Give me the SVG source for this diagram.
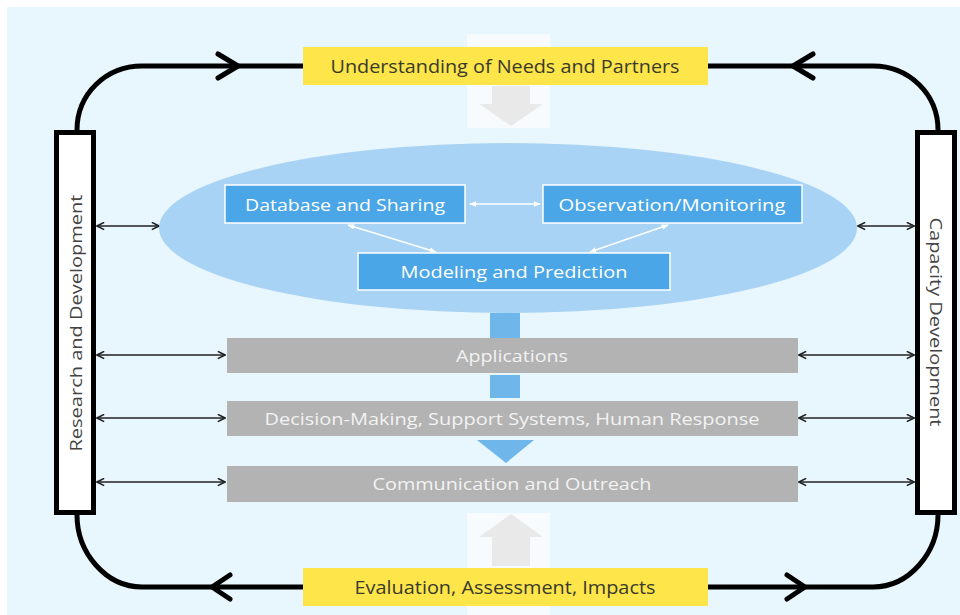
<svg xmlns="http://www.w3.org/2000/svg" width="960" height="615" viewBox="0 0 960 615">
  <defs>
    <style>
      text { font-family: "Open Sans", "Liberation Sans", sans-serif; text-anchor: middle; dominant-baseline: central; }
      .yellow { fill: #fde54a; }
      .ytext { font-size: 18px; fill: #3a3a2a; }
      .side { fill: #ffffff; stroke: #000; stroke-width: 5; }
      .stext { font-size: 17px; fill: #444; }
      .blue { fill: #4aa6e6; stroke: #ffffff; stroke-width: 1.5; }
      .btext { font-size: 17px; fill: #ffffff; }
      .grey { fill: #b3b3b3; }
      .gtext { font-size: 17px; fill: #f2f2f2; }
      .loop { fill: none; stroke: #000; stroke-width: 5; stroke-linecap: round; stroke-linejoin: round; }
      .link { fill: none; stroke: #222; stroke-width: 1.6; }
      .inner { fill: none; stroke: #ffffff; stroke-width: 1.5; }
      .flow { fill: #6fb6ea; }
    </style>
    <marker id="tip" viewBox="0 0 10 10" refX="9" refY="5" markerWidth="9" markerHeight="9" orient="auto-start-reverse" markerUnits="userSpaceOnUse">
      <path d="M1,1 L9,5 L1,9" fill="none" stroke="#222" stroke-width="1.8"/>
    </marker>
    <marker id="wtip" viewBox="0 0 10 10" refX="9" refY="5" markerWidth="7" markerHeight="7" orient="auto-start-reverse" markerUnits="userSpaceOnUse">
      <path d="M0,1 L10,5 L0,9 Z" fill="#ffffff"/>
    </marker>
  </defs>

  <!-- background panel -->
  <rect x="7" y="7" width="953" height="608" fill="#e8f6fd"/>

  <!-- faint feedback arrows behind the yellow boxes -->
  <g id="top-ghost">
    <rect x="467" y="34" width="83" height="94" fill="#f7fbfd"/>
    <path d="M492,86 L530,86 L530,104 L543,104 L511,126 L479,104 L492,104 Z" fill="#e9e9e9"/>
  </g>
  <g id="bottom-ghost">
    <rect x="467" y="513" width="83" height="102" fill="#f7fbfd"/>
    <path d="M492,566 L530,566 L530,537 L543,537 L511,514 L479,537 L492,537 Z" fill="#e9e9e9"/>
  </g>

  <!-- connectors -->
  <g id="connectors">
    <!-- outer loop -->
    <path class="loop" d="M77,130 C77,94 106,66 142,66 L303,66"/>
    <path class="loop" d="M218,54 L238,66 L218,78"/>
    <path class="loop" d="M708,66 L873,66 C909,66 938,94 938,130"/>
    <path class="loop" d="M813,54 L793,66 L813,78"/>
    <path class="loop" d="M77,515 C77,553 106,587 142,587 L303,587"/>
    <path class="loop" d="M230,575 L212,587 L230,599"/>
    <path class="loop" d="M708,587 L873,587 C909,587 938,553 938,515"/>
    <path class="loop" d="M787,575 L805,587 L787,599"/>

    <!-- side links -->
    <line class="link" x1="97" y1="226" x2="159" y2="226" marker-start="url(#tip)" marker-end="url(#tip)"/>
    <line class="link" x1="97" y1="355" x2="225" y2="355" marker-start="url(#tip)" marker-end="url(#tip)"/>
    <line class="link" x1="97" y1="418" x2="225" y2="418" marker-start="url(#tip)" marker-end="url(#tip)"/>
    <line class="link" x1="97" y1="482" x2="225" y2="482" marker-start="url(#tip)" marker-end="url(#tip)"/>
    <line class="link" x1="858" y1="226" x2="914" y2="226" marker-start="url(#tip)" marker-end="url(#tip)"/>
    <line class="link" x1="799" y1="355" x2="914" y2="355" marker-start="url(#tip)" marker-end="url(#tip)"/>
    <line class="link" x1="799" y1="418" x2="914" y2="418" marker-start="url(#tip)" marker-end="url(#tip)"/>
    <line class="link" x1="799" y1="482" x2="914" y2="482" marker-start="url(#tip)" marker-end="url(#tip)"/>
  </g>

  <!-- yellow stages -->
  <g id="needs">
    <rect class="yellow" x="303" y="47" width="405" height="38"/>
    <text class="ytext" x="505" y="66" textLength="349" lengthAdjust="spacingAndGlyphs">Understanding of Needs and Partners</text>
  </g>
  <g id="evaluation">
    <rect class="yellow" x="303" y="568" width="405" height="38"/>
    <text class="ytext" x="505" y="587" textLength="301" lengthAdjust="spacingAndGlyphs">Evaluation, Assessment, Impacts</text>
  </g>

  <!-- side columns -->
  <g id="research">
    <rect class="side" x="56.5" y="132.5" width="37" height="380"/>
    <text class="stext" transform="translate(75,323) rotate(-90)" textLength="257" lengthAdjust="spacingAndGlyphs">Research and Development</text>
  </g>
  <g id="capacity">
    <rect class="side" x="917.5" y="132.5" width="37" height="380"/>
    <text class="stext" transform="translate(936,322) rotate(90)" textLength="209" lengthAdjust="spacingAndGlyphs">Capacity Development</text>
  </g>

  <!-- core cycle -->
  <g id="core">
    <ellipse cx="508" cy="228" rx="349" ry="85" fill="#a8d3f4"/>
    <line class="inner" x1="470" y1="204" x2="540" y2="204" marker-start="url(#wtip)" marker-end="url(#wtip)"/>
    <line class="inner" x1="348" y1="225" x2="436" y2="252" marker-start="url(#wtip)" marker-end="url(#wtip)"/>
    <line class="inner" x1="668" y1="225" x2="590" y2="252" marker-start="url(#wtip)" marker-end="url(#wtip)"/>
  </g>
  <g id="database">
    <rect class="blue" x="225" y="185" width="240" height="38"/>
    <text class="btext" x="345" y="204" textLength="200" lengthAdjust="spacingAndGlyphs">Database and Sharing</text>
  </g>
  <g id="observation">
    <rect class="blue" x="543" y="185" width="259" height="38"/>
    <text class="btext" x="672" y="204" textLength="227" lengthAdjust="spacingAndGlyphs">Observation/Monitoring</text>
  </g>
  <g id="modeling">
    <rect class="blue" x="358" y="253" width="312" height="37"/>
    <text class="btext" x="514" y="271" textLength="227" lengthAdjust="spacingAndGlyphs">Modeling and Prediction</text>
  </g>

  <!-- downstream flow -->
  <g id="flow">
    <rect class="flow" x="490" y="313" width="30" height="25"/>
    <rect class="flow" x="490" y="375" width="30" height="23"/>
    <path class="flow" d="M477,440 L534,440 L506,463 Z"/>
  </g>
  <g id="applications">
    <rect class="grey" x="227" y="338" width="571" height="35"/>
    <text class="gtext" x="512" y="355" textLength="112" lengthAdjust="spacingAndGlyphs">Applications</text>
  </g>
  <g id="decision">
    <rect class="grey" x="227" y="401" width="571" height="35"/>
    <text class="gtext" x="512" y="418" textLength="495" lengthAdjust="spacingAndGlyphs">Decision-Making, Support Systems, Human Response</text>
  </g>
  <g id="communication">
    <rect class="grey" x="227" y="466" width="571" height="36"/>
    <text class="gtext" x="512" y="483" textLength="279" lengthAdjust="spacingAndGlyphs">Communication and Outreach</text>
  </g>
</svg>
